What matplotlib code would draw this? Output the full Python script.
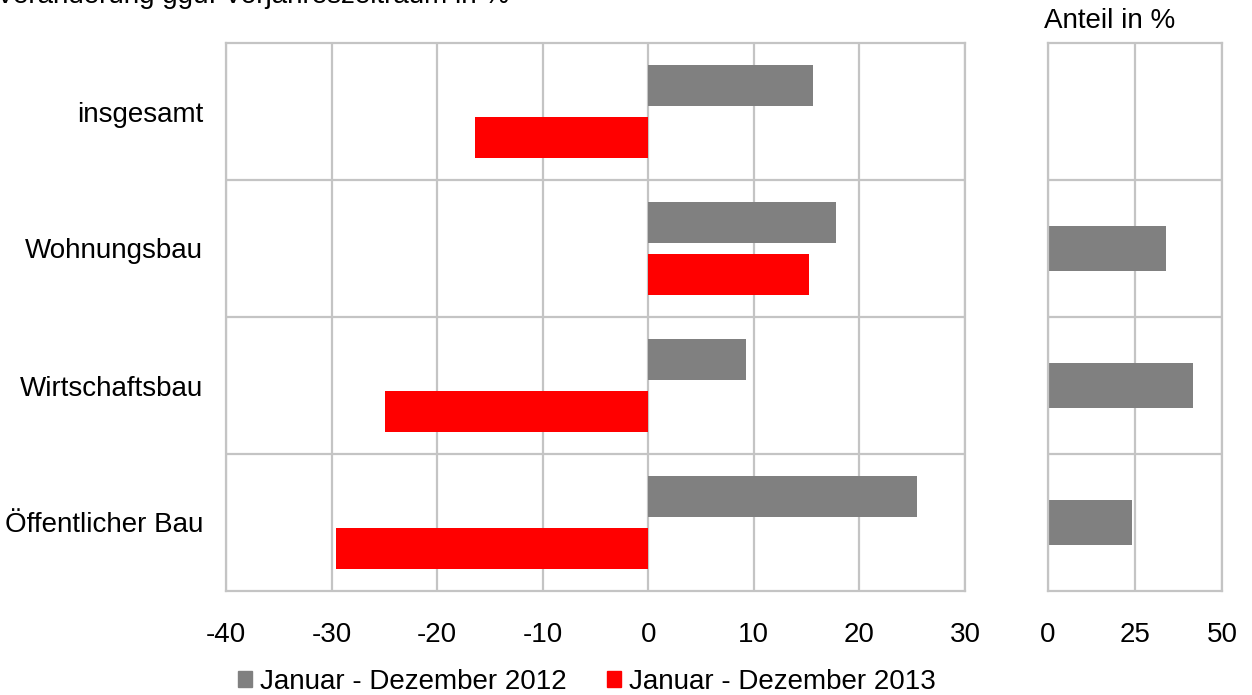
import matplotlib
matplotlib.use("Agg")
import matplotlib.pyplot as plt
from matplotlib.patches import Patch
import numpy as np

plt.rcParams['font.family'] = ['Liberation Sans', 'DejaVu Sans']

categories = ["insgesamt", "Wohnungsbau", "Wirtschaftsbau", "Öffentlicher Bau"]
change_2012 = [15.6, 17.8, 9.3, 25.5]
change_2013 = [-16.4, 15.2, -24.9, -29.6]
share_labels = ["Wohnungsbau", "Wirtschaftsbau", "Öffentlicher Bau"]
share_values = [34.0, 41.8, 24.2]
legend_labels = ["Januar - Dezember 2012", "Januar - Dezember 2013"]
left_ticks = [-40, -30, -20, -10, 0, 10, 20, 30]
right_ticks = [0, 25, 50]

GREY = "#808080"
RED = "#ff0000"
GRID = "#c4c4c4"
FS = 20

W, H = 1252, 695
fig = plt.figure(figsize=(W / 100, H / 100), dpi=100)

def px_axes(l, r, t, b):
    return fig.add_axes([l / W, (H - b) / H, (r - l) / W, (b - t) / H])

def style(ax):
    for s in ax.spines.values():
        s.set_color(GRID)
        s.set_linewidth(1.6)
    ax.tick_params(length=0, labelsize=FS, pad=22)
    ax.set_ylim(len(categories) - 0.5, -0.5)
    for yb in np.arange(0.5, len(categories) - 0.5, 1.0):
        ax.axhline(yb, color=GRID, lw=1.6, zorder=0)
    ax.grid(axis="x", color=GRID, lw=1.6, zorder=0)
    ax.set_axisbelow(True)

# Left panel: change vs. previous year
ax = px_axes(226, 965, 43, 591)
y = np.arange(len(categories))
h = 0.305
ax.barh(y - 0.19, change_2012, height=h, color=GREY, zorder=2)
ax.barh(y + 0.19, change_2013, height=h, color=RED, zorder=2)
ax.set_xlim(-40, 30)
ax.set_xticks(left_ticks)
ax.set_xticklabels([str(t) for t in left_ticks])
style(ax)
ax.set_yticks(y)
ax.set_yticklabels(categories)
ax.tick_params(axis="y", pad=16.5)

# Right panel: share in percent
ax2 = px_axes(1048, 1222, 43, 591)
ys = [categories.index(c) for c in share_labels]
ax2.barh(ys, share_values, height=0.33, color=GREY, zorder=2)
ax2.set_xlim(0, 50)
ax2.set_xticks(right_ticks)
ax2.set_xticklabels([str(t) for t in right_ticks])
style(ax2)
ax2.set_yticks([])

fig.text(1044 / W, 1 - 21 / H, "Anteil in %", fontsize=FS, va="center", ha="left")
fig.text(-4 / W, 1 - 3 / H, "Veränderung ggü. Vorjahreszeitraum in %",
         fontsize=FS, va="baseline", ha="left")

handles = [Patch(color=GREY), Patch(color=RED)]
fig.legend(handles, legend_labels, loc="center", bbox_to_anchor=(587 / W, 1 - 682 / H),
           ncol=2, frameon=False, fontsize=FS, handlelength=0.5, handleheight=0.5,
           handletextpad=0.3, columnspacing=1.45, borderpad=0)

fig.savefig("out.png", dpi=100)
